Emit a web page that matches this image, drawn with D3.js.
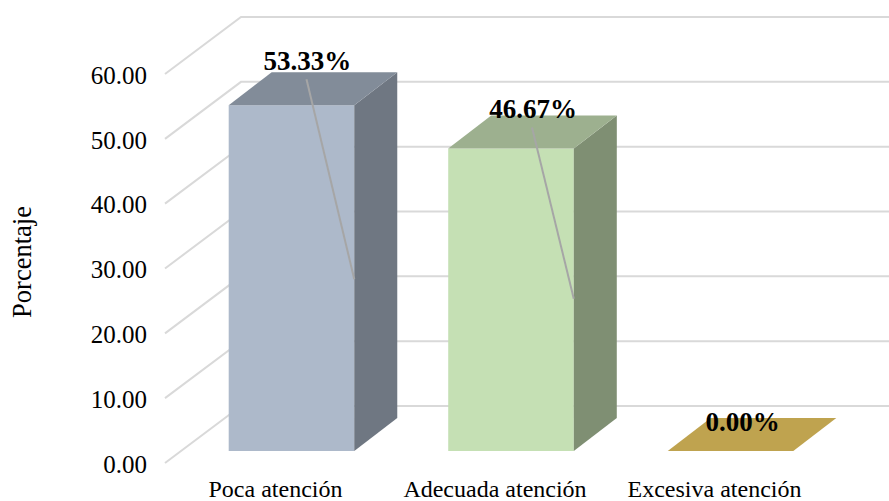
<!DOCTYPE html>
<html><head><meta charset="utf-8">
<script src="https://cdn.jsdelivr.net/npm/d3@7"></script>
<style>html,body{margin:0;padding:0;background:#fff}svg{display:block}text{font-family:"Liberation Serif",serif;fill:#000}</style>
</head><body><svg id="c" width="889" height="501"></svg>
<script>
const categories = ["Poca atención","Adecuada atención","Excesiva atención"];
const values = [53.33,46.67,0];
const valueLabels = ["53.33%","46.67%","0.00%"];
const yTicks = [0,10,20,30,40,50,60];
const frontColors = ["#adb9ca","#c5e0b4","#e0c068"];
const topColors = ["#828c99","#9db08f","#bfa34f"];
const sideColors = ["#6f7782","#7f8f73","#8f7a3b"];
const leaderValues = [26.5,23.5];

const svg = d3.select("#c");
const W = 889;
const y = d3.scaleLinear().domain([0,60]).range([463,74]);        // front edge of floor
const x = d3.scaleBand().domain(categories).range([168.8,821.2]).paddingInner(0.428).paddingOuter(0.2);
const wall = {dx:76, dy:-57};     // front edge to back wall
const bf = {dx:16, dy:-12};       // front edge to bar front
const depth = {dx:43, dy:-33};    // bar depth
const labelShift = [[16,-2],[22,3],[12,13]];   // hand-placed data labels, px from top face
const grid = svg.append("g").attr("fill","none").attr("stroke","#d9d9d9").attr("stroke-width",2);
yTicks.forEach(t=>{
  const x0 = 165, y0 = y(t);
  grid.append("path").attr("d",d3.line()([[x0,y0],[x0+wall.dx,y0+wall.dy],[W,y0+wall.dy]]));
});
const bars = svg.append("g");
categories.forEach((c,i)=>{
  const l = x(c)+bf.dx, r = l+x.bandwidth();
  const b = y(0)+bf.dy, t = y(values[i])+bf.dy;
  const poly=(pts,col)=>bars.append("polygon").attr("points",pts.map(p=>p.join(",")).join(" ")).attr("fill",col);
  if(values[i]>0){
    poly([[l,t],[r,t],[r,b],[l,b]],frontColors[i]);
    poly([[r,t],[r+depth.dx,t+depth.dy],[r+depth.dx,b+depth.dy],[r,b]],sideColors[i]);
  }
  poly([[l,t],[r,t],[r+depth.dx,t+depth.dy],[l+depth.dx,t+depth.dy]],topColors[i]);
});
const labelPos = categories.map((c,i)=>({
  x: x(c)+bf.dx+x.bandwidth()/2+labelShift[i][0],
  y: y(values[i])+bf.dy+depth.dy+labelShift[i][1]
}));
const leaders = svg.append("g").attr("stroke","#a6a6a6").attr("stroke-width",2).attr("fill","none");
leaderValues.forEach((v,i)=>{
  leaders.append("line")
    .attr("x1",labelPos[i].x-1).attr("y1",labelPos[i].y+9)
    .attr("x2",x(categories[i])+bf.dx+x.bandwidth()).attr("y2",y(v)+bf.dy);
});
const yAxis = svg.append("g");
yTicks.forEach(t=>{
  yAxis.append("text").attr("x",147).attr("y",y(t)+1).attr("dy","0.35em").attr("text-anchor","end")
    .attr("font-size",25).text(d3.format(".2f")(t));
});
svg.append("text").attr("transform","translate(31,262) rotate(-90)").attr("text-anchor","middle").attr("font-size",26.5).text("Porcentaje");
categories.forEach((c,i)=>{
  svg.append("text").attr("x",x(c)+bf.dx+x.bandwidth()/2-16).attr("y",497).attr("text-anchor","middle").attr("font-size",24).text(c);
});
categories.forEach((c,i)=>{
  svg.append("text").attr("x",labelPos[i].x).attr("y",labelPos[i].y).attr("text-anchor","middle")
    .attr("font-size",27).attr("font-weight","bold").text(valueLabels[i]);
});
</script></body></html>
